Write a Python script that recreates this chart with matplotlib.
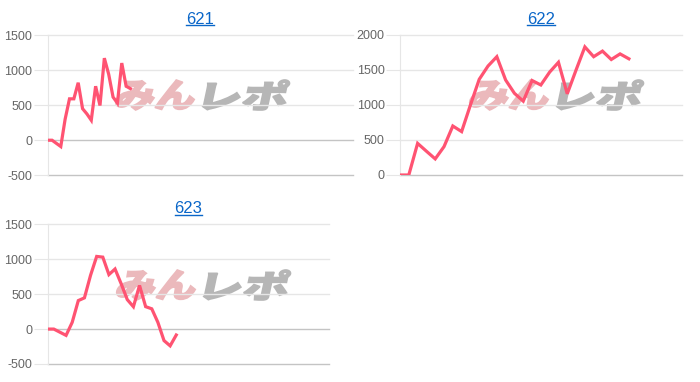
import matplotlib.pyplot as plt
import numpy as np
from matplotlib.patches import PathPatch
from matplotlib.textpath import TextPath
from matplotlib.font_manager import FontProperties
from matplotlib.transforms import Affine2D, IdentityTransform

plt.rcParams["axes.unicode_minus"] = False
plt.rcParams["font.family"] = ["Liberation Sans", "DejaVu Sans"]

# Data (cumulative values per game)
titles = ["621", "622", "623"]
vals_621 = [0, 0, -45, -90, 300, 590, 590, 820, 450, 375, 285, 770, 495, 1170,
            940, 615, 530, 1100, 770, 735]
vals_622 = [0, 0, 452, 340, 230, 405, 700, 620, 1000, 1367, 1557, 1690, 1357,
            1167, 1055, 1350, 1286, 1470, 1610, 1160, 1500, 1830, 1690, 1770,
            1650, 1730, 1660]
vals_623 = [0, 0, -45, -90, 96, 408, 447, 770, 1040, 1030, 780, 860, 649, 422,
            320, 625, 321, 290, 96, -165, -240, -85]
series = [vals_621, vals_622, vals_623]
x_spans = [70, 32, 46]
y_ranges = [(-500, 1500), (0, 2000), (-500, 1500)]
y_ticks = [[-500, 0, 500, 1000, 1500], [0, 500, 1000, 1500, 2000],
           [-500, 0, 500, 1000, 1500]]

W, H = 700, 382
LINE = "#ff5372"
GRID = "#e6e6e6"
ZERO = "#c4c4c4"
TITLE = "#0a66c8"

# axes rectangles in pixels: left, top, width, height
rects_px = [(47.7, 35.0, 305.0, 140.3), (400.0, 35.0, 281.7, 140.0),
            (47.7, 224.3, 281.6, 139.7)]

fig = plt.figure(figsize=(W / 100, H / 100), dpi=100)

logo_font = FontProperties(family="Noto Sans CJK JP", weight="heavy")


def draw_logo(cx, cy):
    """Rough stand-in for the watermark logo, centred at pixel (cx, cy)."""
    for text, color, x0, w in [("みん", "#ebb9bc", cx - 84, 78),
                               ("レポ", "#b6b6b6", cx + 4, 82)]:
        tp = TextPath((0, 0), text, size=10, prop=logo_font)
        ext = tp.get_extents()
        sx = w / ext.width
        sy = 30 / ext.height
        tr = (Affine2D().translate(-ext.x0, -ext.y0).scale(sx, sy)
              .skew_deg(12, 0).translate(x0 - 3, H - cy - 15))
        patch = PathPatch(tr.transform_path(tp), facecolor=color,
                          edgecolor=color, lw=1.2,
                          transform=IdentityTransform(), zorder=1)
        fig.patches.append(patch)


for i, (vals, title) in enumerate(zip(series, titles)):
    l, t, w, h = rects_px[i]
    ax = fig.add_axes([l / W, 1 - (t + h) / H, w / W, h / H])
    ax.set_facecolor("none")
    ax.set_zorder(2)
    x = np.arange(len(vals))
    ax.plot(x, vals, color=LINE, lw=2.3, solid_joinstyle="miter", zorder=3)
    ax.set_xlim(0, x_spans[i])
    ax.set_ylim(*y_ranges[i])
    ax.set_yticks(y_ticks[i])
    ax.set_xticks([])
    for yv in y_ticks[i]:
        col = ZERO if yv == 0 or yv == y_ranges[i][0] else GRID
        ax.axhline(yv, color=col, lw=1, zorder=1, clip_on=False)
    for side in ["top", "right", "bottom"]:
        ax.spines[side].set_visible(False)
    ax.spines["left"].set_color(GRID)
    ax.tick_params(axis="y", length=10, color=GRID, labelcolor="#666666",
                   labelsize=9, pad=1)
    ax.set_title(title, color=TITLE, fontsize=12, pad=8)

# underline the titles like links
fig.canvas.draw()
renderer = fig.canvas.get_renderer()
for ax in fig.axes:
    bb = ax.title.get_window_extent(renderer)
    fig.add_artist(plt.Line2D([bb.x0 / W, bb.x1 / W],
                              [(bb.y0 + 1.5) / H, (bb.y0 + 1.5) / H],
                              color=TITLE, lw=1))

draw_logo(201, 95)
draw_logo(555, 95)
draw_logo(202, 285)

fig.savefig("out.png", dpi=100)
